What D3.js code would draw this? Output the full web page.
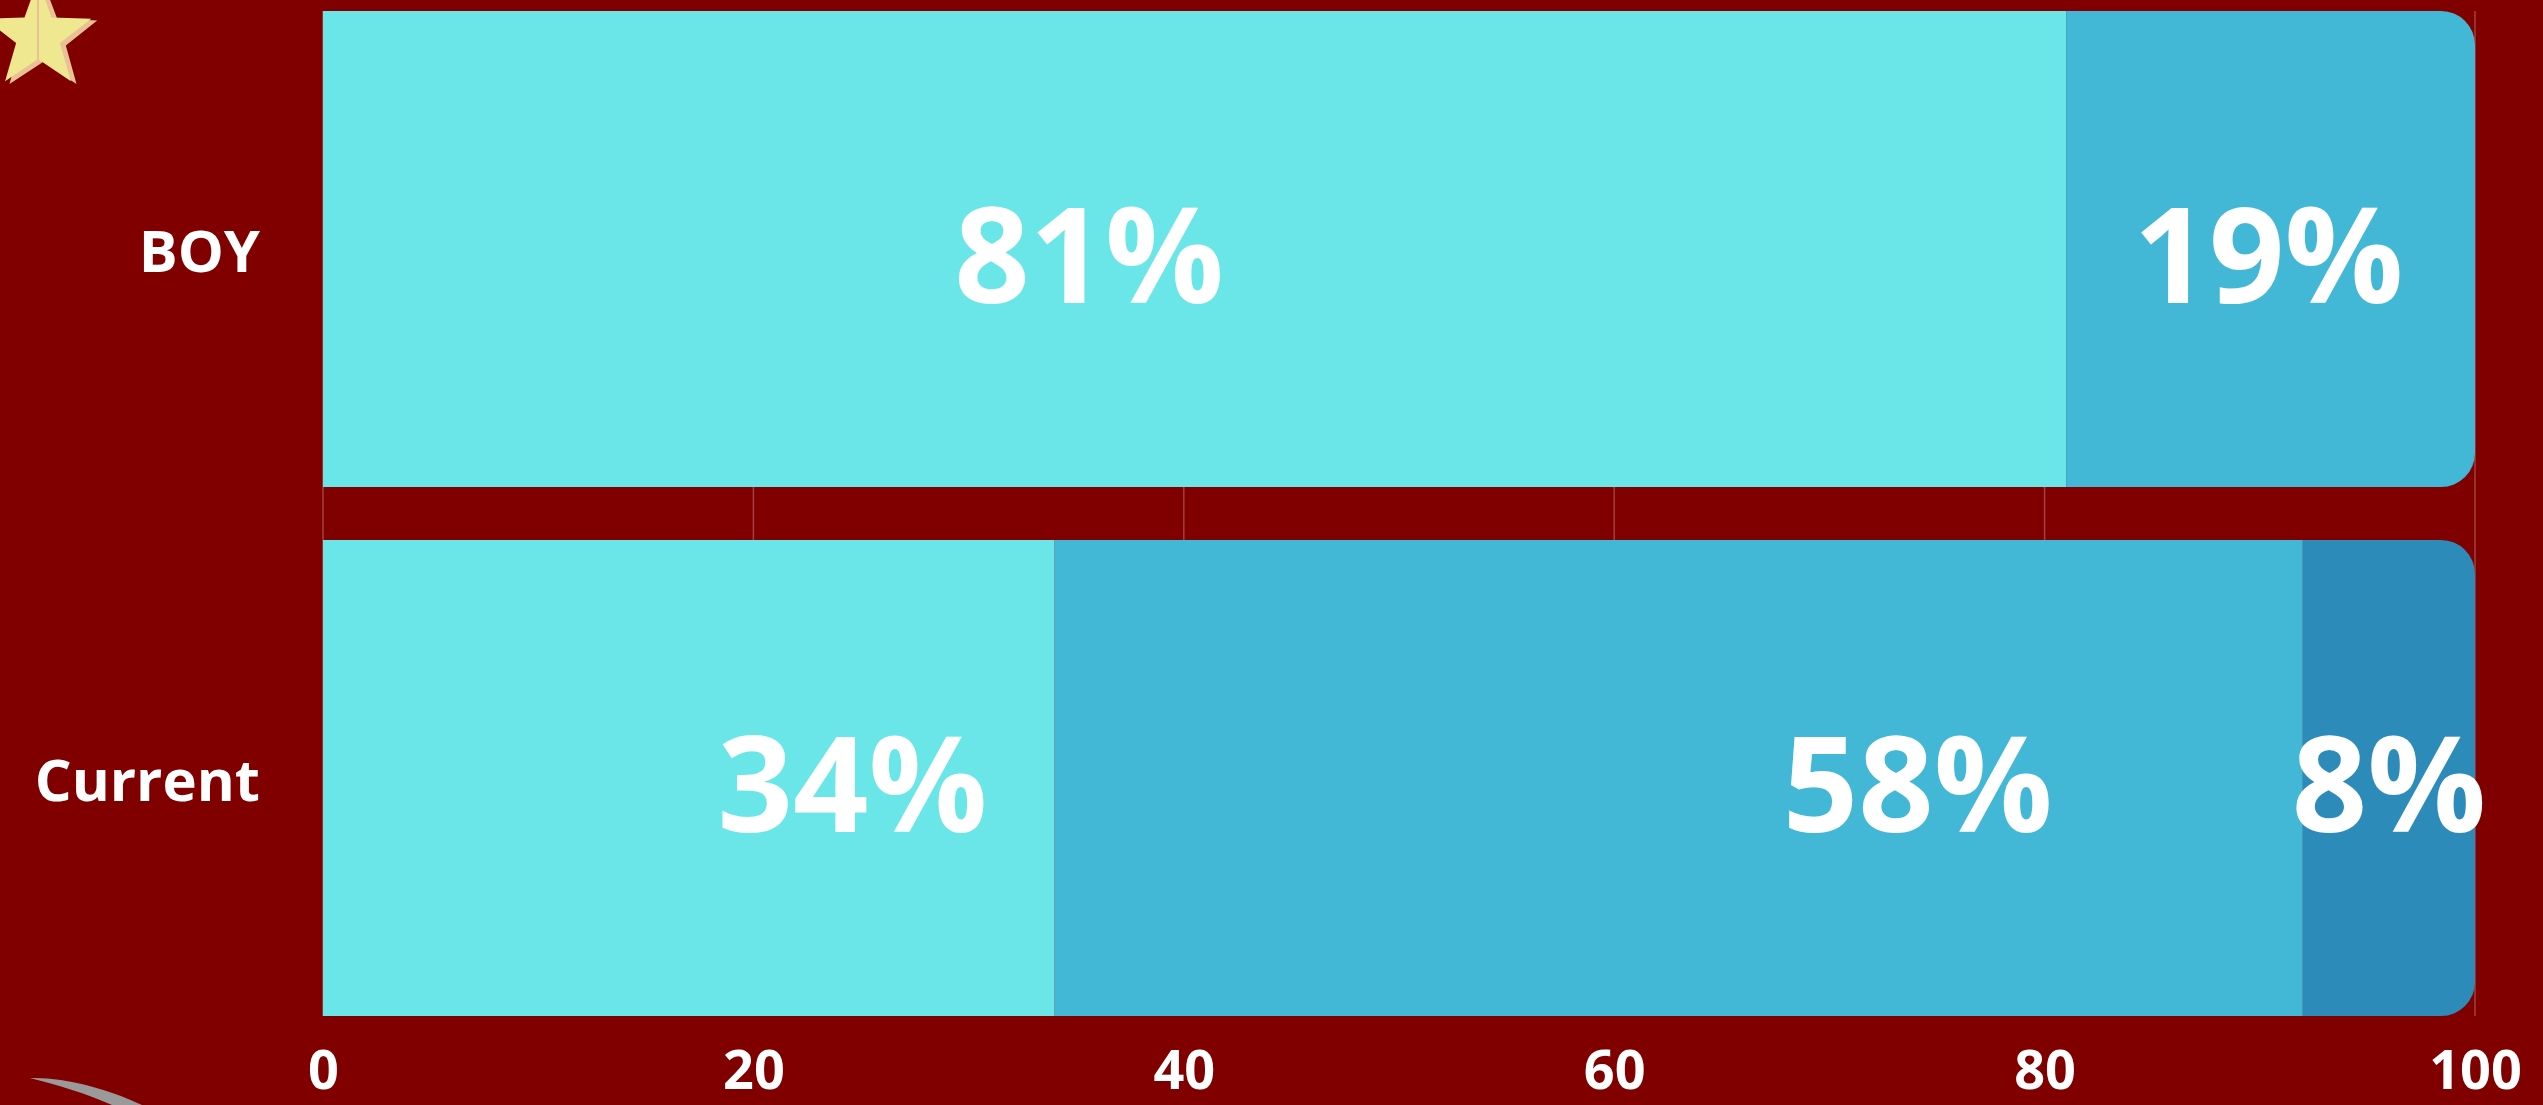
<!DOCTYPE html>
<html>
<head>
<meta charset="utf-8">
<script src="https://cdn.jsdelivr.net/npm/d3@7"></script>
<style>
  html, body { margin: 0; padding: 0; background: #800000; overflow: hidden; }
  svg { display: block; }
  text { font-family: "Open Sans", "Lato", sans-serif; font-weight: 700; fill: #ffffff; }
</style>
</head>
<body>
<svg id="chart" width="2543" height="1105"></svg>
<script>
// Rows of the stacked bar chart
const categories = ["BOY", "Current"];
const seriesKeys = ["first", "second", "third"];
const boyValues = [81, 19, 0];
const currentValues = [34, 58, 8];
// Where each percentage label sits along the axis (in axis units)
const boyLabelAt = [35.6, 90.4, null];
const currentLabelAt = [24.6, 74.1, 96.0];
const tickValues = [0, 20, 40, 60, 80, 100];
const seriesColors = ["#6be6e8", "#43b8d6", "#2d8bba"];

const rows = categories.map((c, i) => {
  const vals = i === 0 ? boyValues : currentValues;
  const at = i === 0 ? boyLabelAt : currentLabelAt;
  const row = { category: c, labelAt: at };
  seriesKeys.forEach((k, j) => { row[k] = vals[j]; });
  return row;
});

const W = 2543, H = 1105;
const svg = d3.select("#chart");
svg.append("rect").attr("width", W).attr("height", H).attr("fill", "#800000");

const x = d3.scaleLinear().domain([0, 100]).range([323, 2475]);
const y = d3.scaleBand().domain(categories).range([-15.5, 1042.5])
  .paddingInner(0.1).paddingOuter(0.05);

// vertical grid lines
const gridTop = y(categories[0]);
const gridBottom = y(categories[categories.length - 1]) + y.bandwidth();
svg.append("g").selectAll("line").data(tickValues).join("line")
  .attr("x1", d => x(d)).attr("x2", d => x(d))
  .attr("y1", gridTop).attr("y2", gridBottom)
  .attr("stroke", "rgba(255,255,255,0.25)").attr("stroke-width", 1.5);

const stacked = d3.stack().keys(seriesKeys)(rows);
const radius = 34;

function segPath(x0, x1, y0, h, roundRight) {
  const w = x1 - x0;
  if (!roundRight) return `M${x0},${y0}h${w}v${h}h${-w}Z`;
  const r = Math.min(radius, w, h / 2);
  return `M${x0},${y0}H${x1 - r}A${r},${r} 0 0 1 ${x1},${y0 + r}` +
         `V${y0 + h - r}A${r},${r} 0 0 1 ${x1 - r},${y0 + h}H${x0}Z`;
}

// index of last non-zero segment per row
const lastIdx = rows.map(r => {
  let li = 0;
  seriesKeys.forEach((k, j) => { if (r[k] > 0) li = j; });
  return li;
});

stacked.forEach((layer, j) => {
  svg.append("g").selectAll("path").data(layer).join("path")
    .filter(d => d[1] - d[0] > 0)
    .attr("d", (d, i) => {
      const ri = rows.indexOf(d.data);
      return segPath(x(d[0]), x(d[1]), y(d.data.category), y.bandwidth(), lastIdx[ri] === j);
    })
    .attr("fill", seriesColors[j]);
});

// percentage labels
stacked.forEach((layer, j) => {
  svg.append("g").selectAll("text").data(layer.filter(d => d[1] - d[0] > 0)).join("text")
    .attr("x", d => x(d.data.labelAt[j]))
    .attr("y", d => y(d.data.category) + y.bandwidth() / 2 + 6)
    .attr("dy", "0.36em")
    .attr("text-anchor", "middle")
    .attr("font-size", 132)
    .text(d => `${d[1] - d[0]}%`);
});

// category labels
svg.append("g").selectAll("text").data(categories).join("text")
  .attr("x", 260)
  .attr("y", d => y(d) + y.bandwidth() / 2 + 2)
  .attr("dy", "0.36em")
  .attr("text-anchor", "end")
  .attr("font-size", 58)
  .text(d => d);

// bottom axis tick labels
const axis = d3.axisBottom(x).tickValues(tickValues).tickSize(0).tickPadding(0);
const axisG = svg.append("g").attr("transform", "translate(0,1089)").call(axis);
axisG.select(".domain").remove();
axisG.selectAll("text")
  .attr("y", 0).attr("dy", 0)
  .attr("font-size", 54)
  .style("font-family", "'Open Sans', sans-serif")
  .style("font-weight", 700)
  .attr("fill", "#ffffff");

// decorative star in the top-left corner
function starPoints(cx, cy, R, r) {
  const pts = [];
  for (let i = 0; i < 10; i++) {
    const a = -Math.PI / 2 + i * Math.PI / 5;
    const rad = i % 2 === 0 ? R : r;
    pts.push([cx + rad * Math.cos(a), cy + rad * Math.sin(a)]);
  }
  return pts.map(p => p.join(",")).join(" ");
}
const deco = svg.append("g");
deco.append("polygon").attr("points", starPoints(43, 38, 57, 24)).attr("fill", "#e8c296");
deco.append("polygon").attr("points", starPoints(38, 36, 56, 23)).attr("fill", "#efe891");
deco.append("line").attr("x1", 38).attr("y1", 0).attr("x2", 38).attr("y2", 60)
  .attr("stroke", "#e8c296").attr("stroke-width", 2);

// grey brush stroke in the bottom-left corner
deco.append("path")
  .attr("d", "M30,1078 C65,1077 108,1089 142,1105 L112,1105 C85,1093 58,1085 30,1078 Z")
  .attr("fill", "#9a9a9a");
</script>
</body>
</html>
